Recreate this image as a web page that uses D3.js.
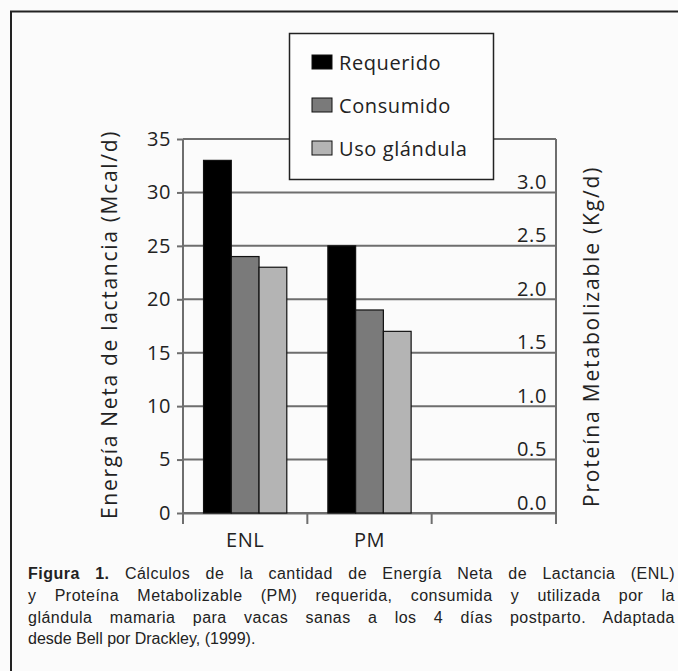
<!DOCTYPE html>
<html>
<head>
<meta charset="utf-8">
<script src="https://cdn.jsdelivr.net/npm/d3@7"></script>
<style>
  html, body { margin: 0; padding: 0; background: #fbfbfb; }
  svg { display: block; }
  .lbl { font-family: "Open Sans", Lato, sans-serif; fill: #222; letter-spacing: 0.6px; }
  .cap { font-family: "Liberation Sans Narrow", "Arial Narrow", "Liberation Sans", sans-serif; fill: #222; }
</style>
</head>
<body>
<svg id="chart" width="678" height="671"></svg>
<script>
// chart values
var categories = ["ENL", "PM", ""];
var series = ["Requerido", "Consumido", "Uso glándula"];
var enlValues = [33, 24, 23];      // Mcal/d, left axis
var pmValues = [2.5, 1.9, 1.7];    // Kg/d, right axis
var leftTicks = [0, 5, 10, 15, 20, 25, 30, 35];
var rightTicks = [0.0, 0.5, 1.0, 1.5, 2.0, 2.5, 3.0];
var captionBold = "Figura 1.";
var captionLines = [
  " Cálculos de la cantidad de Energía Neta de Lactancia (ENL)",
  "y Proteína Metabolizable (PM) requerida, consumida y utilizada por la",
  "glándula mamaria para vacas sanas a los 4 días postparto. Adaptada",
  "desde Bell por Drackley, (1999)."
];

var colours = ["#000000", "#7a7a7a", "#b4b4b4"],
  svg = d3.select("#chart"),
  plot = { left: 183, right: 556, top: 139, bottom: 513 };

// outer frame (runs off the right and bottom edges)
svg.append("path")
  .attr("d", "M11,700 V11.5 H700")
  .attr("fill", "none")
  .attr("stroke", "#222")
  .attr("stroke-width", 2);

var x0 = d3.scaleBand().domain(categories).range([plot.left, plot.right]),
  x1 = d3.scaleBand().domain(series).range([0, x0.bandwidth()]).paddingOuter(0.74),
  yL = d3.scaleLinear().domain([0, 35]).range([plot.bottom, plot.top]),
  yR = d3.scaleLinear().domain([0, 3.5]).range([plot.bottom, plot.top]);

// gridlines
svg.append("g")
  .selectAll("line")
  .data(leftTicks)
  .enter().append("line")
  .attr("x1", plot.left)
  .attr("x2", plot.right)
  .attr("y1", function (d) { return yL(d); })
  .attr("y2", function (d) { return yL(d); })
  .attr("stroke", "#6e6e6e")
  .attr("stroke-width", 2);

// left axis
var gl = svg.append("g")
  .attr("transform", "translate(" + plot.left + ",0)")
  .call(d3.axisLeft(yL).tickValues(leftTicks).tickSize(6).tickPadding(6));
gl.select(".domain").remove();
gl.selectAll(".tick line").attr("stroke", "#6e6e6e").attr("stroke-width", 2);
gl.selectAll(".tick text")
  .attr("class", "lbl")
  .style("font-size", "20px");
svg.append("line")
  .attr("x1", plot.left).attr("x2", plot.left)
  .attr("y1", plot.top).attr("y2", plot.bottom + 11)
  .attr("stroke", "#6e6e6e").attr("stroke-width", 2);

// right axis, labels sit above the gridline inside the plot
var gr = svg.append("g")
  .attr("transform", "translate(" + plot.right + ",0)")
  .call(d3.axisLeft(yR).tickValues(rightTicks).tickSize(0).tickPadding(9)
    .tickFormat(d3.format(".1f")));
gr.select(".domain").remove();
gr.selectAll(".tick text")
  .attr("class", "lbl")
  .attr("dy", "-4px")
  .style("font-size", "20px");
svg.append("line")
  .attr("x1", plot.right).attr("x2", plot.right)
  .attr("y1", plot.top).attr("y2", plot.bottom + 11)
  .attr("stroke", "#6e6e6e").attr("stroke-width", 2);

// bottom axis
var gb = svg.append("g")
  .attr("transform", "translate(0," + plot.bottom + ")")
  .call(d3.axisBottom(x0).tickSize(0).tickPadding(20));
gb.select(".domain")
  .attr("stroke", "#6e6e6e").attr("stroke-width", 2);
gb.selectAll(".tick text")
  .attr("class", "lbl")
  .style("font-size", "20px");
svg.append("g")
  .selectAll("line")
  .data(categories.slice(1).concat(["end"]))
  .enter().append("line")
  .attr("x1", function (d, i) { return i < 2 ? x0(categories[i + 1]) : plot.right; })
  .attr("x2", function (d, i) { return i < 2 ? x0(categories[i + 1]) : plot.right; })
  .attr("y1", plot.bottom)
  .attr("y2", plot.bottom + 11)
  .attr("stroke", "#6e6e6e").attr("stroke-width", 2);

// bars
var groups = [
  { cat: "ENL", values: enlValues, y: yL },
  { cat: "PM", values: pmValues, y: yR }
];
groups.forEach(function (g) {
  svg.append("g")
    .attr("transform", "translate(" + x0(g.cat) + ",0)")
    .selectAll("rect")
    .data(g.values)
    .enter().append("rect")
    .attr("x", function (d, i) { return x1(series[i]); })
    .attr("width", x1.bandwidth())
    .attr("y", function (d) { return g.y(d); })
    .attr("height", function (d) { return g.y(0) - g.y(d); })
    .attr("fill", function (d, i) { return colours[i]; })
    .attr("stroke", "#111")
    .attr("stroke-width", 1.2);
});

// axis titles
svg.append("text")
  .attr("class", "lbl")
  .attr("transform", "translate(117,325) rotate(-90)")
  .attr("text-anchor", "middle")
  .attr("textLength", 388)
  .attr("lengthAdjust", "spacing")
  .style("font-size", "21px")
  .text("Energía Neta de lactancia (Mcal/d)");
svg.append("text")
  .attr("class", "lbl")
  .attr("transform", "translate(599,337) rotate(-90)")
  .attr("text-anchor", "middle")
  .attr("textLength", 340)
  .attr("lengthAdjust", "spacing")
  .style("font-size", "21px")
  .text("Proteína Metabolizable (Kg/d)");

// legend
var legend = svg.append("g");
legend.append("rect")
  .attr("x", 289.5).attr("y", 33.5)
  .attr("width", 204).attr("height", 146)
  .attr("fill", "#fdfdfd")
  .attr("stroke", "#222")
  .attr("stroke-width", 1.5);
var rows = legend.selectAll(".row")
  .data(series)
  .enter().append("g")
  .attr("transform", function (d, i) { return "translate(312," + (55 + i * 43) + ")"; });
rows.append("rect")
  .attr("width", 20).attr("height", 14)
  .attr("fill", function (d, i) { return colours[i]; })
  .attr("stroke", "#111");
rows.append("text")
  .attr("class", "lbl")
  .attr("x", 27).attr("y", 15)
  .style("font-size", "20px")
  .text(function (d) { return d; });

// caption, justified: a little letter spacing, the rest in the word gaps
var cap = svg.append("g"),
  capWidth = 647;
captionLines.forEach(function (line, i) {
  var t = cap.append("text")
    .attr("class", "cap")
    .attr("x", 28)
    .attr("y", 579 + i * 21.8)
    .style("font-size", "16px");
  if (i === 0) {
    t.append("tspan").style("font-weight", "bold").text(captionBold);
  }
  t.append("tspan").text(line);
  if (i < 3) {
    t.style("letter-spacing", "0.5px");
    var full = (i === 0 ? captionBold : "") + line,
      gaps = full.split(" ").length - 1,
      w = t.node().getComputedTextLength();
    t.style("word-spacing", Math.max(0, (capWidth - w) / gaps) + "px");
  }
});
</script>
</body>
</html>
